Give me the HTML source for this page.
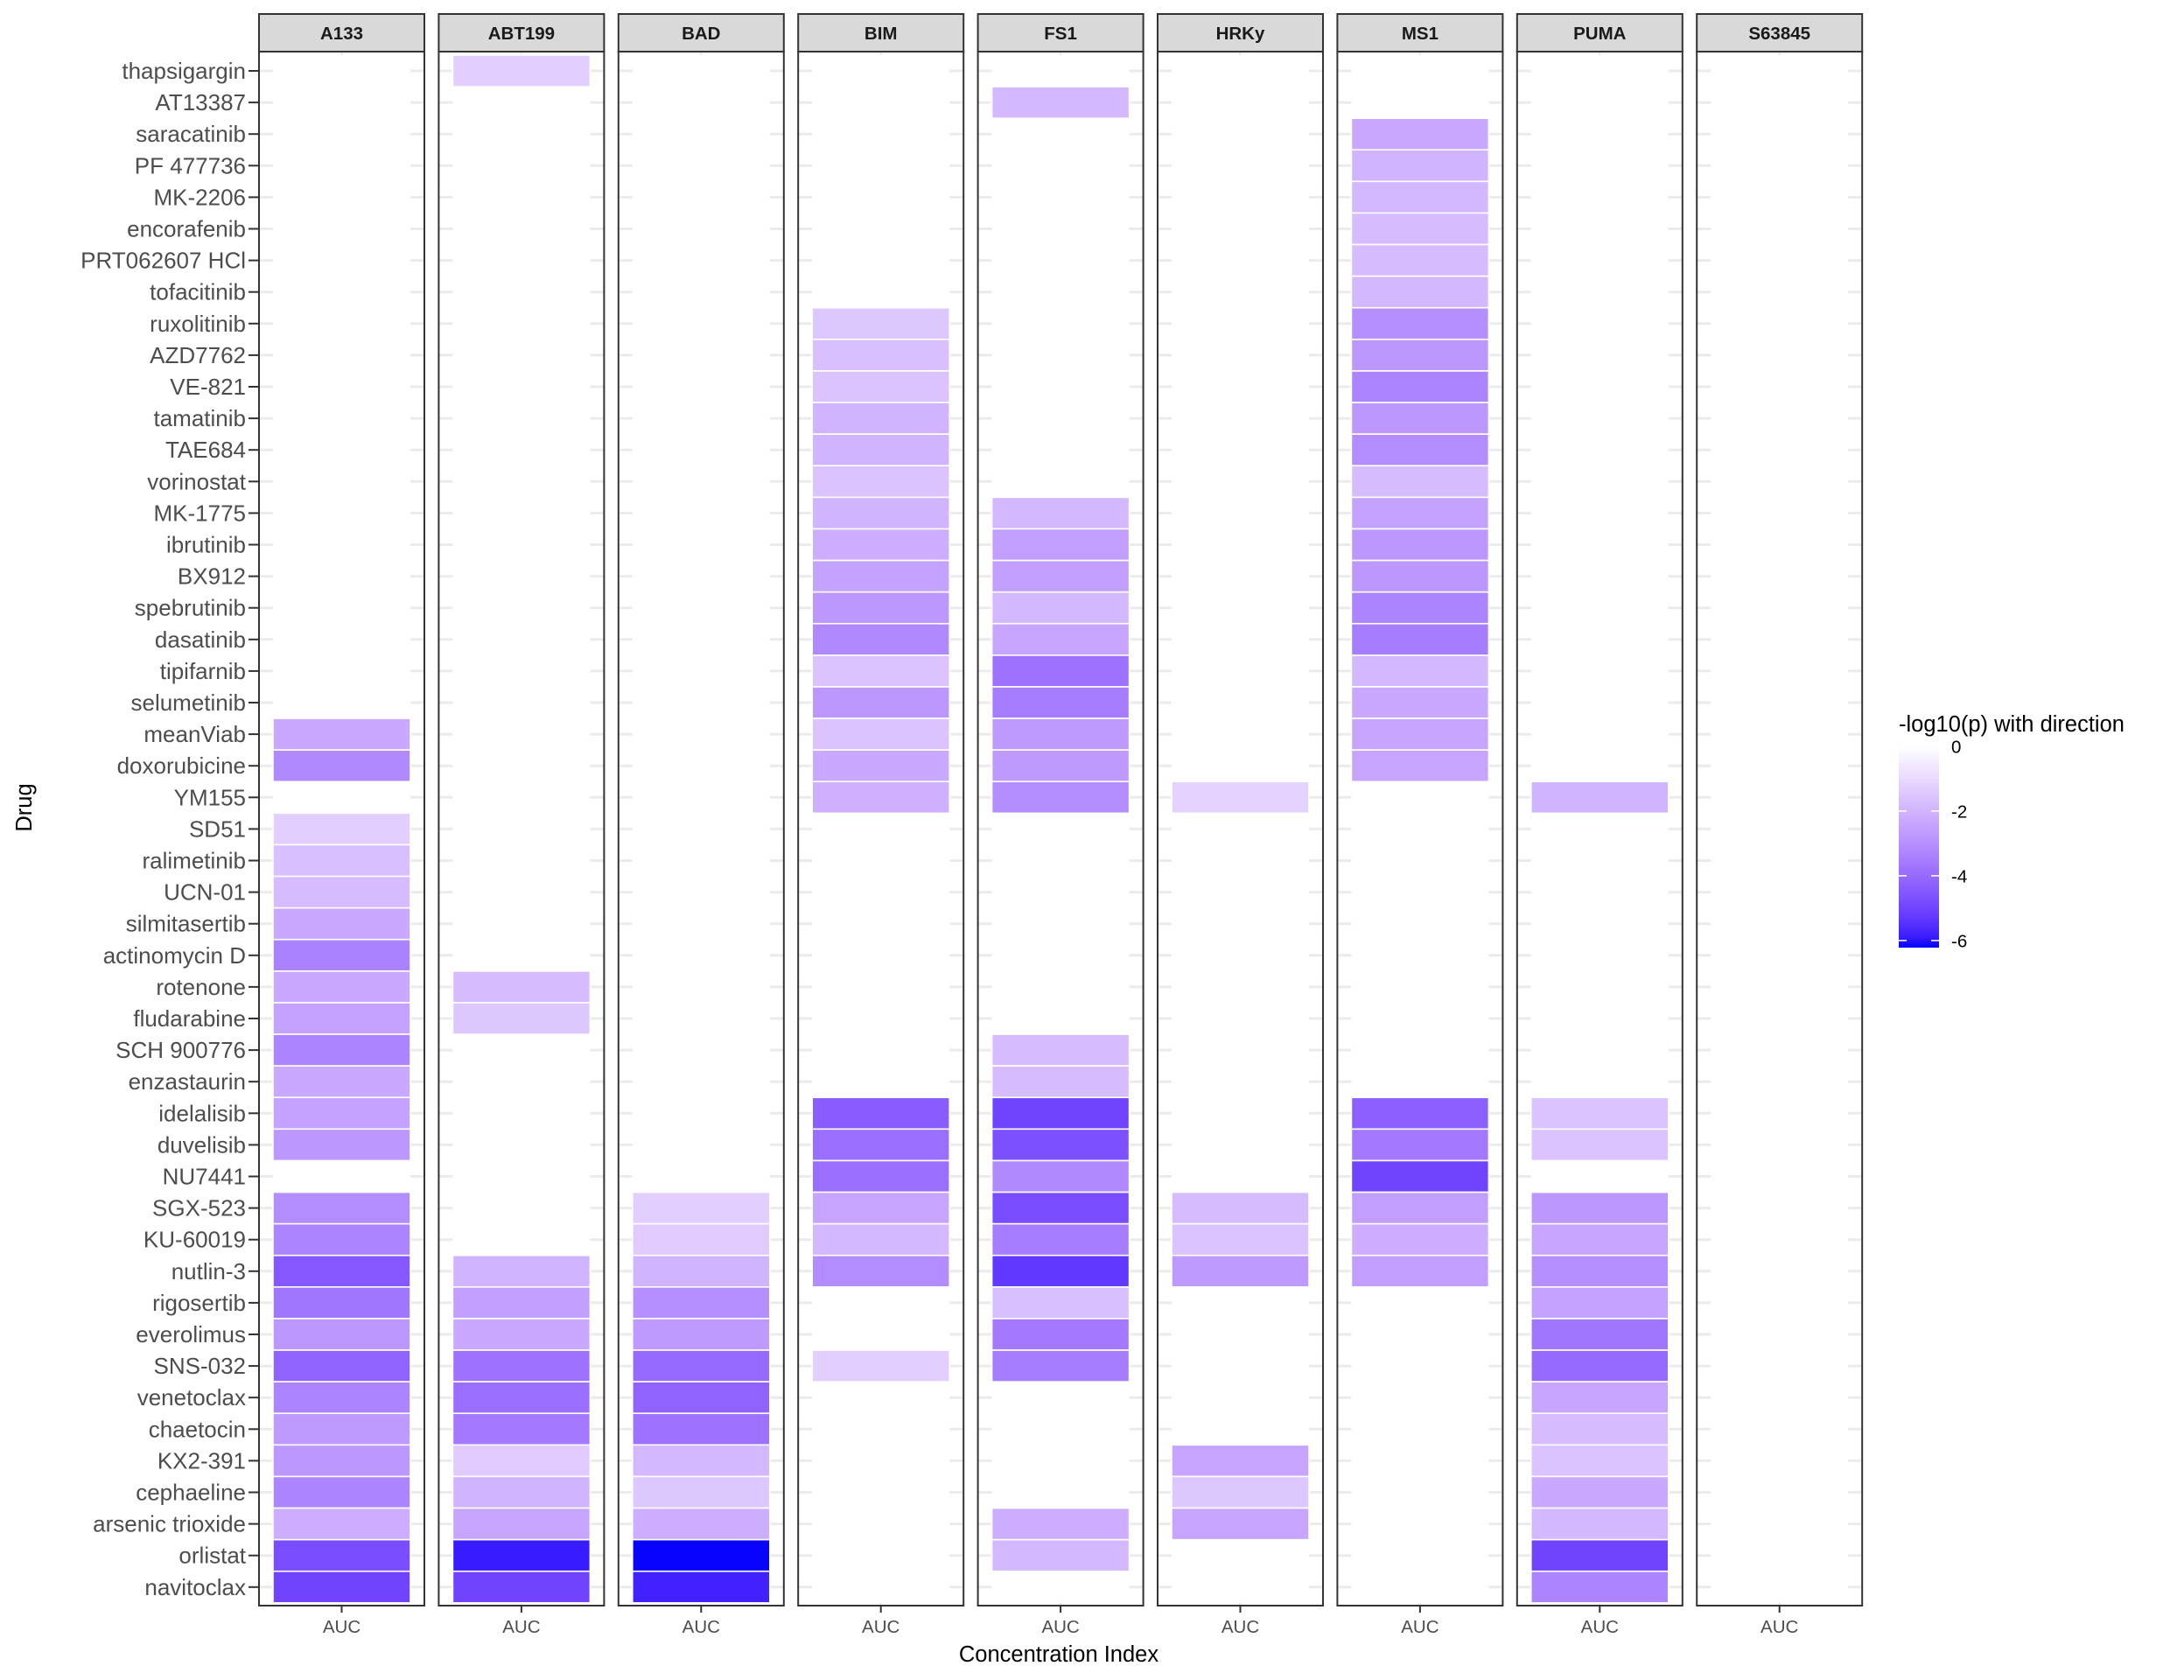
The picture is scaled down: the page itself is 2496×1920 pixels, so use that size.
<!DOCTYPE html>
<html><head><meta charset="utf-8"><style>
html,body{margin:0;padding:0;background:#fff;}
svg{display:block;font-family:"Liberation Sans",Arial,sans-serif;}
</style></head><body>
<svg id="chart" width="2496" height="1920" viewBox="0 0 2496 1920"></svg>
<script>
const drugs = ["thapsigargin","AT13387","saracatinib","PF 477736","MK-2206","encorafenib","PRT062607 HCl","tofacitinib","ruxolitinib","AZD7762","VE-821","tamatinib","TAE684","vorinostat","MK-1775","ibrutinib","BX912","spebrutinib","dasatinib","tipifarnib","selumetinib","meanViab","doxorubicine","YM155","SD51","ralimetinib","UCN-01","silmitasertib","actinomycin D","rotenone","fludarabine","SCH 900776","enzastaurin","idelalisib","duvelisib","NU7441","SGX-523","KU-60019","nutlin-3","rigosertib","everolimus","SNS-032","venetoclax","chaetocin","KX2-391","cephaeline","arsenic trioxide","orlistat","navitoclax"];
const panels = ["A133","ABT199","BAD","BIM","FS1","HRKy","MS1","PUMA","S63845"];
const legendTicks = [0,-2,-4,-6];
const A133 = [["meanViab",-2.3],["doxorubicine",-3.2],["SD51",-1.3],["ralimetinib",-1.7],["UCN-01",-1.8],["silmitasertib",-2.3],["actinomycin D",-3.4],["rotenone",-2.3],["fludarabine",-2.5],["SCH 900776",-3.3],["enzastaurin",-2.3],["idelalisib",-2.5],["duvelisib",-2.8],["SGX-523",-3.1],["KU-60019",-3.3],["nutlin-3",-4.5],["rigosertib",-3.7],["everolimus",-2.8],["SNS-032",-4.2],["venetoclax",-3.3],["chaetocin",-2.7],["KX2-391",-2.8],["cephaeline",-3.3],["arsenic trioxide",-2.2],["orlistat",-4.8],["navitoclax",-5.0]];
const ABT199 = [["thapsigargin",-1.3],["rotenone",-1.8],["fludarabine",-1.5],["nutlin-3",-2.0],["rigosertib",-2.6],["everolimus",-2.3],["SNS-032",-3.8],["venetoclax",-3.9],["chaetocin",-3.6],["KX2-391",-1.4],["cephaeline",-2.0],["arsenic trioxide",-2.4],["orlistat",-5.9],["navitoclax",-5.0]];
const BAD = [["SGX-523",-1.3],["KU-60019",-1.4],["nutlin-3",-2.0],["rigosertib",-3.0],["everolimus",-2.7],["SNS-032",-4.0],["venetoclax",-4.2],["chaetocin",-3.8],["KX2-391",-1.9],["cephaeline",-1.5],["arsenic trioxide",-2.2],["orlistat",-6.2],["navitoclax",-5.8]];
const BIM = [["ruxolitinib",-1.5],["AZD7762",-1.7],["VE-821",-1.6],["tamatinib",-2.0],["TAE684",-2.0],["vorinostat",-1.6],["MK-1775",-2.0],["ibrutinib",-2.2],["BX912",-2.5],["spebrutinib",-2.8],["dasatinib",-3.2],["tipifarnib",-1.6],["selumetinib",-2.8],["meanViab",-1.6],["doxorubicine",-2.3],["YM155",-2.1],["idelalisib",-4.4],["duvelisib",-3.9],["NU7441",-3.9],["SGX-523",-2.4],["KU-60019",-1.9],["nutlin-3",-3.1],["SNS-032",-1.3]];
const FS1 = [["AT13387",-1.9],["MK-1775",-1.9],["ibrutinib",-2.6],["BX912",-2.6],["spebrutinib",-1.9],["dasatinib",-2.4],["tipifarnib",-3.8],["selumetinib",-3.5],["meanViab",-2.7],["doxorubicine",-2.7],["YM155",-3.1],["SCH 900776",-1.8],["enzastaurin",-1.8],["idelalisib",-5.0],["duvelisib",-4.7],["NU7441",-3.2],["SGX-523",-4.8],["KU-60019",-3.5],["nutlin-3",-5.3],["rigosertib",-1.7],["everolimus",-3.6],["SNS-032",-3.5],["arsenic trioxide",-2.2],["orlistat",-1.9]];
const HRKy = [["YM155",-1.2],["SGX-523",-1.8],["KU-60019",-1.6],["nutlin-3",-2.7],["KX2-391",-2.4],["cephaeline",-1.5],["arsenic trioxide",-2.4]];
const MS1 = [["saracatinib",-2.3],["PF 477736",-2.0],["MK-2206",-1.9],["encorafenib",-1.8],["PRT062607 HCl",-1.8],["tofacitinib",-1.9],["ruxolitinib",-3.0],["AZD7762",-2.8],["VE-821",-3.3],["tamatinib",-2.8],["TAE684",-3.1],["vorinostat",-1.8],["MK-1775",-2.5],["ibrutinib",-2.8],["BX912",-2.8],["spebrutinib",-3.3],["dasatinib",-3.5],["tipifarnib",-1.9],["selumetinib",-2.3],["meanViab",-2.4],["doxorubicine",-2.4],["idelalisib",-4.3],["duvelisib",-3.6],["NU7441",-5.0],["SGX-523",-2.6],["KU-60019",-2.2],["nutlin-3",-2.6]];
const PUMA = [["YM155",-2.0],["idelalisib",-1.6],["duvelisib",-1.6],["SGX-523",-2.8],["KU-60019",-2.4],["nutlin-3",-3.0],["rigosertib",-2.5],["everolimus",-3.7],["SNS-032",-4.0],["venetoclax",-2.4],["chaetocin",-1.8],["KX2-391",-1.6],["cephaeline",-2.3],["arsenic trioxide",-1.9],["orlistat",-5.0],["navitoclax",-3.3]];
const S63845 = [];
const panelData = {A133, ABT199, BAD, BIM, FS1, HRKy, MS1, PUMA, S63845};

const NS = "http://www.w3.org/2000/svg";
const svg = document.getElementById("chart");
function mk(tag, attrs, parent){ const e=document.createElementNS(NS,tag); for(const k in attrs) e.setAttribute(k,attrs[k]); (parent||svg).appendChild(e); return e; }

const panelX0 = 296, panelStep = 205.4, panelW = 189, inset = 16;
const stripTop = 16, stripBot = 59, panelBot = 1835;
const rowY0 = 81, rowStep = 36.1;
const vMin = -6.22, vMax = 0;
const yScale = i => rowY0 + i*rowStep;
const xPanel = i => panelX0 + i*panelStep;

function srgb2lin(c){c/=255;return c<=0.04045?c/12.92:Math.pow((c+0.055)/1.055,2.4);}
function lin2srgb(c){c=c<=0.0031308?12.92*c:1.055*Math.pow(c,1/2.4)-0.055;return Math.round(Math.max(0,Math.min(1,c))*255);}
function rgb2lab(r,g,b){r=srgb2lin(r);g=srgb2lin(g);b=srgb2lin(b);
 let x=(r*0.4124+g*0.3576+b*0.1805)/0.95047,y=r*0.2126+g*0.7152+b*0.0722,z=(r*0.0193+g*0.1192+b*0.9505)/1.08883;
 const f=t=>t>0.008856?Math.cbrt(t):7.787*t+16/116; x=f(x);y=f(y);z=f(z);
 return [116*y-16,500*(x-y),200*(y-z)];}
function lab2rgb(L,a,bb){let y=(L+16)/116,x=a/500+y,z=y-bb/200;
 const fi=t=>t*t*t>0.008856?t*t*t:(t-16/116)/7.787; x=fi(x)*0.95047;y=fi(y);z=fi(z)*1.08883;
 const r=x*3.2406+y*-1.5372+z*-0.4986,g=x*-0.9689+y*1.8758+z*0.0415,b=x*0.0557+y*-0.2040+z*1.0570;
 return `rgb(${lin2srgb(r)},${lin2srgb(g)},${lin2srgb(b)})`;}
const labLo = rgb2lab(0,0,255), labHi = rgb2lab(255,255,255);
function color(v){let t=(v-vMin)/(vMax-vMin);t=Math.max(0,Math.min(1,t));
 return lab2rgb(labLo[0]+(labHi[0]-labLo[0])*t,labLo[1]+(labHi[1]-labLo[1])*t,labLo[2]+(labHi[2]-labLo[2])*t);}

drugs.forEach((d,i)=>{
  const y=yScale(i);
  const t=mk("text",{x:281,y:y+9,"text-anchor":"end","font-size":26,fill:"#4d4d4d"});
  t.textContent=d;
  
  
  const tk=mk("line",{x1:284,x2:296,y1:y,y2:y,stroke:"#333","stroke-width":2});
  
  
});

panels.forEach((p,pi)=>{
  const x=xPanel(pi);
  const g=mk("g",{});
  
  
  mk("rect",{x:x,y:stripBot,width:panelW,height:panelBot-stripBot,fill:"#fff"},g);
  drugs.forEach((d,i)=>{ mk("line",{x1:x,x2:x+panelW,y1:yScale(i),y2:yScale(i),stroke:"#ebebeb","stroke-width":3},g); });
  mk("line",{x1:x+panelW/2,x2:x+panelW/2,y1:stripBot,y2:panelBot,stroke:"#ebebeb","stroke-width":3},g);
  mk("rect",{x:x+inset,y:yScale(0)-rowStep*0.5,width:panelW-2*inset,height:rowStep*drugs.length,fill:"#fff"},g);
  panelData[p].forEach(([d,v])=>{
    const i=drugs.indexOf(d); if(i<0) return;
    const r=mk("rect",{x:x+inset,y:yScale(i)-rowStep/2,width:panelW-2*inset,height:rowStep,fill:color(v),stroke:"#fff","stroke-width":1.6},g);
    
    
  });
  mk("rect",{x:x,y:stripBot,width:panelW,height:panelBot-stripBot,fill:"none",stroke:"#333","stroke-width":2},g);
  const s=mk("rect",{x:x,y:stripTop,width:panelW,height:stripBot-stripTop,fill:"#d9d9d9",stroke:"#333","stroke-width":2},g);
  
  
  const st=mk("text",{x:x+panelW/2,y:stripBot-14,"text-anchor":"middle","font-size":20.5,"font-weight":"bold",fill:"#1a1a1a"},g);
  st.textContent=p;
  
  
  mk("line",{x1:x+panelW/2,x2:x+panelW/2,y1:panelBot,y2:panelBot+8,stroke:"#333","stroke-width":2},g);
  const xl=mk("text",{x:x+panelW/2,y:1866,"text-anchor":"middle","font-size":20.5,fill:"#4d4d4d"},g);
  xl.textContent="AUC";
  
  
});

const xt=mk("text",{x:1210,y:1899,"text-anchor":"middle","font-size":25.5,fill:"#000"});
xt.textContent="Concentration Index";


const yt=mk("text",{x:0,y:0,"text-anchor":"middle","font-size":25.5,fill:"#000",transform:"translate(36,923) rotate(-90)"});
yt.textContent="Drug";



const lg=mk("g",{});


const lt=mk("text",{x:2170,y:836,"font-size":25.5,fill:"#000"},lg);
lt.textContent="-log10(p) with direction";


const barX=2170, barW=46, barTop=853, barBot=1083;
const ly = v => barTop + (vMax-v)/(vMax-vMin)*(barBot-barTop);
const defs=mk("defs",{},lg);
const grad=mk("linearGradient",{id:"lgGrad",x1:0,y1:0,x2:0,y2:1},defs);
for(let k=0;k<=20;k++){const v=vMax-(vMax-vMin)*k/20; mk("stop",{offset:(k/20),"stop-color":color(v)},grad);}
const cb=mk("rect",{x:barX,y:barTop,width:barW,height:barBot-barTop,fill:"url(#lgGrad)"},lg);


legendTicks.forEach(v=>{
  const y=ly(v);
  mk("line",{x1:barX,x2:barX+9,y1:y,y2:y,stroke:"#fff","stroke-width":1.5},lg);
  mk("line",{x1:barX+barW-9,x2:barX+barW,y1:y,y2:y,stroke:"#fff","stroke-width":1.5},lg);
  const tl=mk("text",{x:2230,y:y+7.5,"font-size":20.5,fill:"#000"},lg);
  tl.textContent=String(v);
  
  
});
</script>
</body></html>
